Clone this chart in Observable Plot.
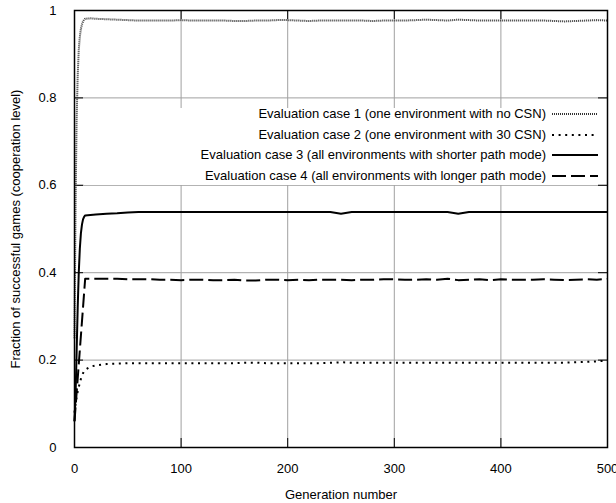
<!DOCTYPE html>
<html><head><meta charset="utf-8">
<script src="https://cdn.jsdelivr.net/npm/d3@7"></script>
<script src="https://cdn.jsdelivr.net/npm/@observablehq/plot@0.6"></script>
<style>
body{margin:0;background:#fff;}
#wrap{position:relative;width:616px;height:503px;font-family:"Liberation Sans",Arial,sans-serif;}
#legend{position:absolute;left:84px;top:108px;width:514px;height:77px;background:#fff;}
.row{position:absolute;right:0;height:20px;display:flex;align-items:center;font-size:13px;line-height:20px;color:#000;white-space:nowrap;}
.row svg{margin-left:6px;display:block;}
</style></head><body><div id="wrap"></div>
<script>
// generation numbers (x)
const gens = [0,1,2,3,4,5,6,7,8,9,10,15,20,
  30,40,50,60,70,80,90,100,110,120,130,140,150,160,170,180,190,200,
  210,220,230,240,250,260,270,280,290,300,310,320,330,340,350,360,370,380,390,400,
  410,420,430,440,450,460,470,480,490,500];

// Evaluation case 1 (one environment with no CSN)
const case1 = [0.25,0.55,0.75,0.85,0.91,0.94,0.958,0.968,0.975,0.979,0.981,0.982,0.981,
  0.980,0.979,0.978,0.977,0.977,0.977,0.977,0.978,0.977,0.977,0.977,0.977,0.976,0.976,0.977,0.977,0.978,0.978,
  0.977,0.976,0.977,0.977,0.977,0.977,0.977,0.976,0.977,0.977,0.977,0.978,0.979,0.978,0.977,0.979,0.978,0.977,0.977,0.977,
  0.977,0.977,0.977,0.977,0.976,0.975,0.976,0.977,0.978,0.977];

// Evaluation case 2 (one environment with 30 CSN)
const case2 = [0.08,0.10,0.115,0.128,0.138,0.148,0.157,0.164,0.17,0.175,0.178,0.185,0.188,
  0.191,0.192,0.193,0.193,0.193,0.193,0.193,0.193,0.193,0.193,0.193,0.193,0.193,0.194,0.194,0.193,0.193,0.193,
  0.193,0.193,0.193,0.194,0.195,0.194,0.194,0.194,0.194,0.194,0.194,0.194,0.194,0.194,0.194,0.194,0.194,0.194,0.194,0.194,
  0.194,0.194,0.194,0.194,0.194,0.194,0.195,0.196,0.197,0.199];

// Evaluation case 3 (all environments with shorter path mode)
const case3 = [0.06,0.12,0.22,0.32,0.40,0.455,0.49,0.51,0.522,0.528,0.531,0.532,0.533,
  0.535,0.536,0.538,0.539,0.539,0.539,0.539,0.539,0.539,0.539,0.539,0.539,0.539,0.539,0.539,0.539,0.539,0.539,
  0.539,0.539,0.539,0.539,0.535,0.539,0.539,0.539,0.539,0.539,0.539,0.539,0.539,0.539,0.539,0.535,0.539,0.539,0.539,0.539,
  0.539,0.539,0.539,0.539,0.539,0.539,0.539,0.539,0.539,0.539];

// Evaluation case 4 (all environments with longer path mode)
const case4 = [0.06,null,null,null,null,null,null,null,null,null,0.386,0.386,0.386,
  0.386,0.386,0.385,0.385,0.385,0.384,0.384,0.383,0.384,0.384,0.383,0.383,0.384,0.382,0.382,0.384,0.384,0.383,
  0.384,0.383,0.384,0.384,0.384,0.383,0.384,0.384,0.385,0.385,0.384,0.384,0.385,0.384,0.386,0.383,0.384,0.385,0.383,0.385,
  0.384,0.384,0.384,0.385,0.384,0.383,0.384,0.385,0.384,0.386];

const seriesNames = [
  "Evaluation case 1 (one environment with no CSN)",
  "Evaluation case 2 (one environment with 30 CSN)",
  "Evaluation case 3 (all environments with shorter path mode)",
  "Evaluation case 4 (all environments with longer path mode)"
];
const seriesValues = [case1, case2, case3, case4];

const xTicks = [0,100,200,300,400,500];
const yTicks = [0,0.2,0.4,0.6,0.8,1];
const yTickLabels = ["0","0.2","0.4","0.6","0.8","1"];
const xLabel = "Generation number";
const yLabel = "Fraction of successful games (cooperation level)";

const styles = [
  {stroke:"#333", strokeWidth:2, strokeDasharray:"1,1"},
  {stroke:"#000", strokeWidth:2, strokeDasharray:"2,4.6"},
  {stroke:"#000", strokeWidth:2},
  {stroke:"#000", strokeWidth:2, strokeDasharray:"14,5"}
];

const W = 616, H = 503, mL = 74, mR = 9, mT = 10, mB = 56;
const pw = W - mL - mR, ph = H - mT - mB, tk = 9;

function rows(vals){ return gens.map((g,i)=>({g, v: vals[i]})).filter(d => d.v != null); }

const lineMarks = seriesValues.map((vals, k) =>
  Plot.line(rows(vals), {x:"g", y:"v", ...styles[k], strokeLinecap:"butt", strokeLinejoin:"round"}));

const chart = Plot.plot({
  width: W, height: H,
  marginLeft: mL, marginRight: mR, marginTop: mT, marginBottom: mB,
  style: {fontFamily:'"Liberation Sans", Arial, sans-serif', fontSize:"13px", background:"#fff", color:"#000"},
  x: {domain:[0,500]},
  y: {domain:[0,1]},
  marks: [
    Plot.gridX(xTicks, {stroke:"#a0a0a0", strokeOpacity:1, strokeWidth:1}),
    Plot.gridY(yTicks, {stroke:"#a0a0a0", strokeOpacity:1, strokeWidth:1}),
    Plot.tickX(xTicks, {x:d=>d, insetTop: ph - tk, stroke:"#000", strokeWidth:1}),
    Plot.tickX(xTicks, {x:d=>d, insetBottom: ph - tk, stroke:"#000", strokeWidth:1}),
    Plot.tickY(yTicks, {y:d=>d, insetRight: pw - tk, stroke:"#000", strokeWidth:1}),
    Plot.tickY(yTicks, {y:d=>d, insetLeft: pw - tk, stroke:"#000", strokeWidth:1}),
    Plot.axisX(xTicks, {tickSize:0, tickPadding:16, label:null}),
    Plot.axisY(yTicks, {tickSize:0, tickPadding:18, tickFormat:d => yTickLabels[yTicks.indexOf(d)], label:null}),
    Plot.text([xLabel], {text:d=>d, frameAnchor:"bottom", dy:47, textAnchor:"middle", lineAnchor:"middle", fontSize:13}),
    Plot.text([yLabel], {text:d=>d, frameAnchor:"left", dx:-59, rotate:-90, textAnchor:"middle", lineAnchor:"middle", fontSize:13}),
    ...lineMarks,
    Plot.frame({stroke:"#000", strokeWidth:1.5})
  ]
});

const wrap = document.getElementById("wrap");
wrap.appendChild(chart);

// opaque legend box (gnuplot style key)
const legend = document.createElement("div");
legend.id = "legend";
wrap.appendChild(legend);
seriesNames.forEach((name, k) => {
  const row = document.createElement("div");
  row.className = "row";
  row.style.top = (114 - 108 - 10 + k * 20.6) + "px";
  const span = document.createElement("span");
  span.textContent = name;
  row.appendChild(span);
  const s = styles[k];
  const svg = document.createElementNS("http://www.w3.org/2000/svg","svg");
  svg.setAttribute("width","46"); svg.setAttribute("height","20");
  const ln = document.createElementNS("http://www.w3.org/2000/svg","line");
  ln.setAttribute("x1","0"); ln.setAttribute("x2","46");
  ln.setAttribute("y1","10"); ln.setAttribute("y2","10");
  ln.setAttribute("stroke", s.stroke);
  ln.setAttribute("stroke-width", s.strokeWidth);
  if (s.strokeDasharray) ln.setAttribute("stroke-dasharray", s.strokeDasharray);
  svg.appendChild(ln);
  row.appendChild(svg);
  legend.appendChild(row);
});
</script>
</body></html>
